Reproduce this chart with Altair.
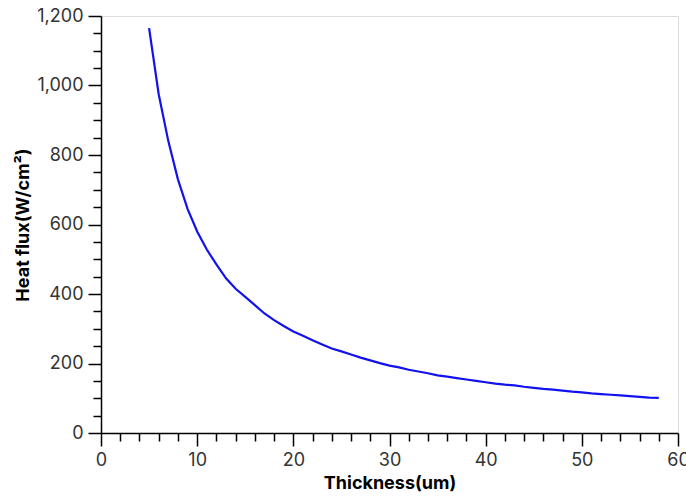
import altair as alt
import pandas as pd

thickness = list(range(5, 59))
heat_flux = [1165, 975, 840, 730, 645, 580, 528, 485, 445, 415,
             392, 368, 344, 325, 308, 292, 280, 267, 255, 243,
             235, 226, 217, 209, 201, 194, 189, 182, 177, 172,
             166, 162, 158, 154, 150, 146, 142, 139, 137, 133,
             130, 127, 125, 122, 119, 117, 114, 112, 110, 108,
             106, 104, 102, 101]

x_major = [0, 10, 20, 30, 40, 50, 60]
x_minor = [v for v in range(0, 61, 2) if v % 10 != 0]
y_major = [0, 200, 400, 600, 800, 1000, 1200]
y_minor = [v for v in range(0, 1201, 50) if v % 200 != 0]

df = pd.DataFrame({"t": thickness, "q": heat_flux})

FONT = "Inter"
xs = alt.Scale(domain=[0, 60], nice=False, zero=True)
ys = alt.Scale(domain=[0, 1200], nice=False, zero=True)

line = alt.Chart(df).mark_line(color="#1212ee", strokeWidth=2.2).encode(
    x=alt.X("t:Q", scale=xs, axis=alt.Axis(
        values=x_major, title="Thickness(um)", tickSize=13, labelPadding=5,
        titlePadding=5, labelFontSize=18, titleFontSize=18, labelFont=FONT,
        titleFont=FONT, titleFontWeight="bold", grid=False, domainColor="black",
        tickColor="black", labelColor="#333333", titleColor="black",
        domainWidth=1.5, tickWidth=1.5, labelFlush=False, format="d",
        orient="bottom")),
    y=alt.Y("q:Q", scale=ys, axis=alt.Axis(
        values=y_major, title="Heat flux(W/cm²)", tickSize=13, labelPadding=5,
        titlePadding=4, labelFontSize=18, titleFontSize=18, labelFont=FONT,
        titleFont=FONT, titleFontWeight="bold", grid=False, domainColor="black",
        tickColor="black", labelColor="#333333", titleColor="black",
        domainWidth=1.5, tickWidth=1.5, format=",.0f", labelFlush=False,
        orient="left")),
)

minor = alt.Chart(df).mark_line(strokeOpacity=0).encode(
    x=alt.X("t:Q", scale=xs, axis=alt.Axis(
        values=x_minor, labels=False, domain=False, tickSize=8, title=None,
        grid=False, tickColor="black", tickWidth=1.5, orient="bottom")),
    y=alt.Y("q:Q", scale=ys, axis=alt.Axis(
        values=y_minor, labels=False, domain=False, tickSize=8, title=None,
        grid=False, tickColor="black", tickWidth=1.5, orient="left")),
)

chart = alt.layer(line, minor).resolve_axis(x="independent", y="independent").properties(
    width=577, height=417,
    autosize=alt.AutoSizeParams(type="none"),
    padding={"left": 101, "top": 16, "right": 8, "bottom": 64},
).configure_view(stroke=None).configure(background="white")

chart.save("out.html", embed_options={"renderer": "svg", "actions": False})
